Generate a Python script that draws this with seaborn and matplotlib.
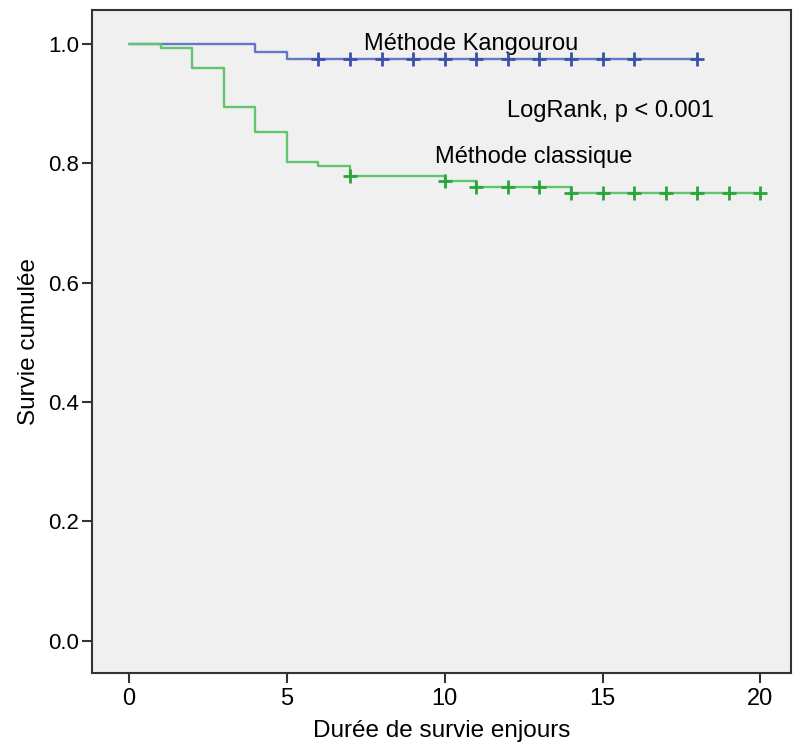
import matplotlib
matplotlib.use("Agg")
import matplotlib.pyplot as plt
import seaborn as sns
import pandas as pd

# Kaplan-Meier step data
kang_time = [0, 4, 5, 18]
kang_surv = [1.0, 0.987, 0.975, 0.975]
kang_cens_time = [6, 7, 8, 9, 10, 11, 12, 13, 14, 15, 16, 18]
kang_cens_surv = [0.975] * 12

clas_time = [0, 1, 2, 3, 4, 5, 6, 7, 10, 11, 14, 20]
clas_surv = [1.0, 0.993, 0.959, 0.894, 0.853, 0.803, 0.796, 0.779, 0.770, 0.761, 0.751, 0.751]
clas_cens_time = [7, 10, 11, 12, 13, 14, 15, 16, 17, 18, 19, 20]
clas_cens_surv = [0.779, 0.770, 0.761, 0.761, 0.761, 0.751, 0.751, 0.751, 0.751, 0.751, 0.751, 0.751]

x_ticks = [0, 5, 10, 15, 20]
y_ticks = [0.0, 0.2, 0.4, 0.6, 0.8, 1.0]

sns.set_style("white")
plt.rcParams['font.family'] = ['Liberation Sans', 'DejaVu Sans']

fig = plt.figure(figsize=(7.93, 7.42), dpi=100)
ax = fig.add_axes([0.116, 0.093, 0.882, 0.8935])
ax.set_facecolor("#f0f0f0")

blue_line = "#6478c8"
blue_mark = "#3850a8"
green_line = "#62c46e"
green_mark = "#2aa43c"

dk = pd.DataFrame({"t": kang_time, "s": kang_surv})
dc = pd.DataFrame({"t": clas_time, "s": clas_surv})
sns.lineplot(data=dk, x="t", y="s", drawstyle="steps-post", color=blue_line, lw=1.7, ax=ax, estimator=None)
sns.lineplot(data=dc, x="t", y="s", drawstyle="steps-post", color=green_line, lw=1.7, ax=ax, estimator=None)

sns.scatterplot(x=kang_cens_time, y=kang_cens_surv, marker="+", s=90, color=blue_mark, linewidth=2, ax=ax, zorder=5)
sns.scatterplot(x=clas_cens_time, y=clas_cens_surv, marker="+", s=90, color=green_mark, linewidth=2, ax=ax, zorder=5)

ax.text(10.84, 1.0, "Méthode Kangourou", ha="center", va="center", fontsize=17, color="black")
ax.text(15.25, 0.887, "LogRank, p < 0.001", ha="center", va="center", fontsize=17, color="black")
ax.text(12.83, 0.811, "Méthode classique", ha="center", va="center", fontsize=17, color="black")

ax.set_xlim(-1.17, 20.98)
ax.set_ylim(-0.054, 1.057)
ax.set_xticks(x_ticks)
ax.set_xticklabels([str(v) for v in x_ticks], family=['Liberation Sans Narrow', 'Liberation Sans'],
                   fontsize=17, color="black")
ax.set_yticks(y_ticks)
ax.set_yticklabels([f"{v:.1f}" for v in y_ticks], fontsize=16, color="black")
ax.tick_params(axis="both", direction="out", length=7, width=1.5, color="#333333",
               bottom=True, left=True, pad=2)
ax.tick_params(axis="x", pad=4)
for sp in ax.spines.values():
    sp.set_color("#333333")
    sp.set_linewidth(1.5)
ax.set_xlabel("Durée de survie enjours", fontsize=17.5, labelpad=7, color="black")
ax.set_ylabel("Survie cumulée", fontsize=17.5, labelpad=6, color="black")

fig.savefig("out.png", dpi=100)
